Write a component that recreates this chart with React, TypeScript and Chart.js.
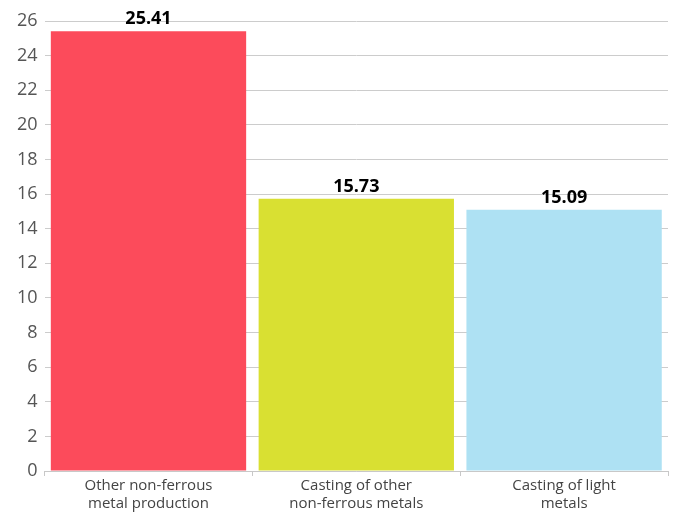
import React, { useEffect, useRef } from "react";
import { Chart, registerables } from "chart.js";

Chart.register(...registerables);

const categories: string[][] = [
  ["Other non-ferrous", "metal production"],
  ["Casting of other", "non-ferrous metals"],
  ["Casting of light", "metals"],
];
const values: number[] = [25.41, 15.73, 15.09];
const barColors: string[] = ["#FC4B5B", "#D9E032", "#AEE1F3"];
const yMax = 26;
const yStep = 2;

const FONT = "'Open Sans', 'Noto Sans', sans-serif";

const valueLabels = {
  id: "valueLabels",
  afterDatasetsDraw(chart: any) {
    const ctx = chart.ctx;
    const meta = chart.getDatasetMeta(0);
    ctx.save();
    ctx.font = `bold 18px ${FONT}`;
    ctx.fillStyle = "#000";
    ctx.textAlign = "center";
    ctx.textBaseline = "bottom";
    meta.data.forEach((bar: any, i: number) => {
      ctx.fillText(values[i].toFixed(2), bar.x, bar.y - 3);
    });
    ctx.restore();
  },
};

export default function App() {
  const ref = useRef<HTMLCanvasElement>(null);
  useEffect(() => {
    document.body.style.margin = "0";
    const chart = new Chart(ref.current!, {
      type: "bar",
      data: {
        labels: categories,
        datasets: [
          {
            data: values,
            backgroundColor: barColors,
            barPercentage: 0.94,
            categoryPercentage: 1,
          },
        ],
      },
      options: {
        animation: false,
        responsive: false,
        maintainAspectRatio: false,
        layout: { padding: { top: 21, right: 11, left: 10, bottom: 0 } },
        plugins: { legend: { display: false }, tooltip: { enabled: false } },
        scales: {
          x: {
            grid: {
              offset: true,
              drawOnChartArea: false,
              drawTicks: true,
              tickLength: 5,
              color: "#c8c8c8",
            },
            border: { display: true, color: "#c8c8c8" },
            ticks: {
              color: "#444",
              font: { family: FONT, size: 15, lineHeight: 1.2 },
              padding: 1,
              maxRotation: 0,
            },
          },
          y: {
            min: 0,
            max: yMax,
            grid: { drawTicks: false, color: "#cccccc" },
            border: { display: false },
            ticks: {
              stepSize: yStep,
              color: "#555",
              font: { family: FONT, size: 18 },
              padding: 7,
            },
          },
        },
      },
      plugins: [valueLabels],
    });
    return () => chart.destroy();
  }, []);
  return (
    <div style={{ width: 679, height: 514 }}>
      <canvas ref={ref} width={679} height={514} style={{ display: "block" }} />
    </div>
  );
}
